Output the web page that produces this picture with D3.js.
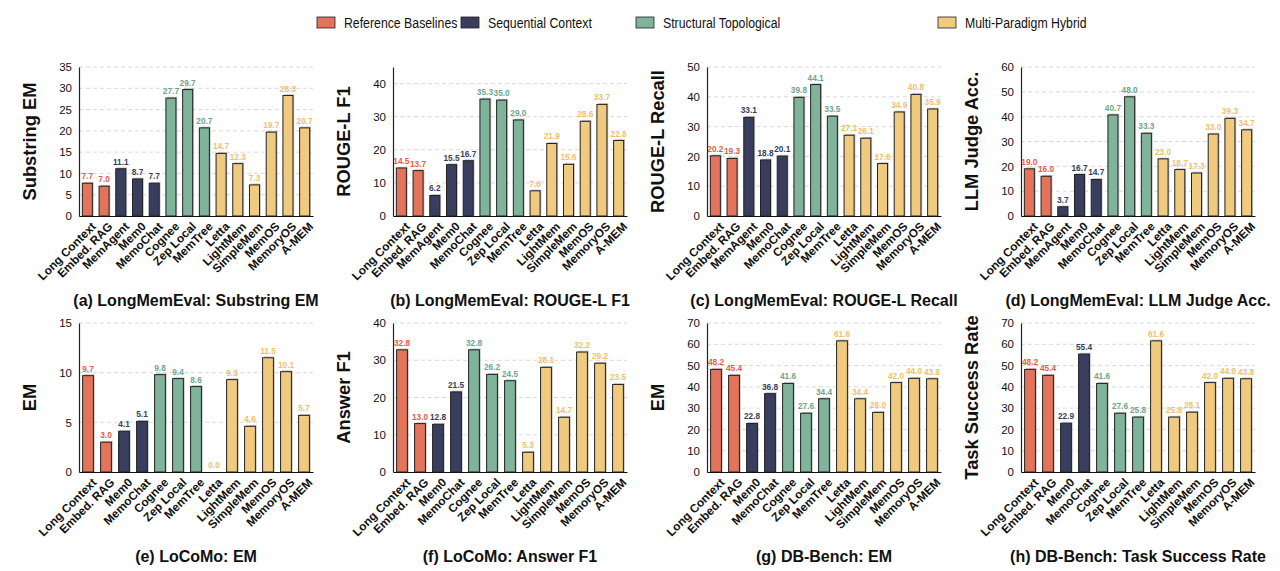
<!DOCTYPE html>
<html>
<head>
<meta charset="utf-8">
<script src="https://cdn.jsdelivr.net/npm/d3@7"></script>
<style>
  body { margin: 0; background: #fff; }
  svg { display: block; }
  text { font-family: "Liberation Sans", Arial, Helvetica, sans-serif; }
</style>
</head>
<body>
<svg id="chart" width="1280" height="571"></svg>
<script>
// ---- data ----
const groupNames = ["Reference Baselines", "Sequential Context", "Structural Topological", "Multi-Paradigm Hybrid"];
const referenceMethods = ["Long Context", "Embed. RAG"];
const sequentialMethods = ["MemAgent", "Mem0", "MemoChat"];
const structuralMethods = ["Cognee", "Zep Local", "MemTree"];
const hybridMethods = ["Letta", "LightMem", "SimpleMem", "MemOS", "MemoryOS", "A-MEM"];

const methodsLongMemEval = ["Long Context", "Embed. RAG", "MemAgent", "Mem0", "MemoChat", "Cognee", "Zep Local",
  "MemTree", "Letta", "LightMem", "SimpleMem", "MemOS", "MemoryOS", "A-MEM"];
const methodsOther = ["Long Context", "Embed. RAG", "Mem0", "MemoChat", "Cognee", "Zep Local",
  "MemTree", "Letta", "LightMem", "SimpleMem", "MemOS", "MemoryOS", "A-MEM"];

const lmeSubstringEM = [7.7, 7.0, 11.1, 8.7, 7.7, 27.7, 29.7, 20.7, 14.7, 12.3, 7.3, 19.7, 28.3, 20.7];
const lmeRougeF1     = [14.5, 13.7, 6.2, 15.5, 16.7, 35.3, 35.0, 29.0, 7.6, 21.9, 15.6, 28.6, 33.7, 22.8];
const lmeRougeRecall = [20.2, 19.3, 33.1, 18.8, 20.1, 39.8, 44.1, 33.5, 27.1, 26.1, 17.6, 34.9, 40.8, 35.9];
const lmeJudgeAcc    = [19.0, 16.0, 3.7, 16.7, 14.7, 40.7, 48.0, 33.3, 23.0, 18.7, 17.3, 33.0, 39.3, 34.7];
const locomoEM       = [9.7, 3.0, 4.1, 5.1, 9.8, 9.4, 8.6, 0.0, 9.3, 4.6, 11.5, 10.1, 5.7];
const locomoF1       = [32.8, 13.0, 12.8, 21.5, 32.8, 26.2, 24.5, 5.3, 28.1, 14.7, 32.2, 29.2, 23.5];
const dbEM           = [48.2, 45.4, 22.8, 36.8, 41.6, 27.6, 34.4, 61.6, 34.4, 28.0, 42.0, 44.0, 43.8];
const dbSuccess      = [48.2, 45.4, 22.9, 55.4, 41.6, 27.6, 25.8, 61.6, 25.8, 28.1, 42.0, 44.0, 43.8];

const yLabels  = ["Substring EM", "ROUGE-L F1", "ROUGE-L Recall", "LLM Judge Acc.", "EM", "Answer F1", "EM", "Task Success Rate"];
const captions = ["(a) LongMemEval: Substring EM", "(b) LongMemEval: ROUGE-L F1", "(c) LongMemEval: ROUGE-L Recall",
  "(d) LongMemEval: LLM Judge Acc.", "(e) LoCoMo: EM", "(f) LoCoMo: Answer F1", "(g) DB-Bench: EM",
  "(h) DB-Bench: Task Success Rate"];
const yMaxes   = [35, 45, 50, 60, 15, 40, 70, 70];
const yTicks   = [5, 10, 10, 10, 5, 10, 10, 10];

// ---- style ----
const fills  = ["#E4735B", "#393E5E", "#7FB39A", "#F0CA7E"];
const labelColors = ["#E2604A", "#393E5E", "#6FA68C", "#EFBF6E"];

const groupOf = new Map();
[referenceMethods, sequentialMethods, structuralMethods, hybridMethods]
  .forEach((list, g) => list.forEach(m => groupOf.set(m, g)));

const panels = [
  [methodsLongMemEval, lmeSubstringEM], [methodsLongMemEval, lmeRougeF1],
  [methodsLongMemEval, lmeRougeRecall], [methodsLongMemEval, lmeJudgeAcc],
  [methodsOther, locomoEM], [methodsOther, locomoF1], [methodsOther, dbEM], [methodsOther, dbSuccess]
].map(([methods, values], i) => ({
  methods, values, yLabel: yLabels[i], caption: captions[i], yMax: yMaxes[i], step: yTicks[i]
}));

const svg = d3.select("#chart");
const colLeft = [79, 393, 707, 1021], rowTop = [67, 323];
const pw = 234, ph = 149;

panels.forEach((p, i) => {
  const x0 = colLeft[i % 4], y0 = rowTop[Math.floor(i / 4)];
  const g = svg.append("g").attr("transform", `translate(${x0},${y0})`);

  const x = d3.scaleBand().domain(p.methods).range([0, pw]).paddingInner(0.4).paddingOuter(0.2);
  const y = d3.scaleLinear().domain([0, p.yMax]).range([ph, 0]);
  const ticks = d3.range(0, p.yMax + 0.001, p.step);

  // grid
  g.selectAll("line.grid").data(ticks.filter(t => t > 0)).join("line")
    .attr("x1", 0).attr("x2", pw).attr("y1", d => y(d)).attr("y2", d => y(d))
    .attr("stroke", "#cfcfcf").attr("stroke-width", 0.8).attr("stroke-dasharray", "4,3");

  const data = p.methods.map((m, k) => ({ m, v: p.values[k], g: groupOf.get(m) }));

  // shadows
  g.selectAll("rect.shadow").data(data).join("rect")
    .attr("x", d => x(d.m) + 1.3).attr("y", d => y(d.v) - 1.3)
    .attr("width", x.bandwidth()).attr("height", d => ph - y(d.v) + 1.3)
    .attr("fill", "#777").attr("opacity", d => d.v > 0 ? 0.45 : 0);

  g.selectAll("rect.bar").data(data).join("rect")
    .attr("x", d => x(d.m)).attr("y", d => y(d.v))
    .attr("width", x.bandwidth()).attr("height", d => ph - y(d.v))
    .attr("fill", d => fills[d.g]).attr("stroke", "#222").attr("stroke-width", d => d.v > 0 ? 1 : 0);

  g.selectAll("text.val").data(data).join("text")
    .attr("x", d => x(d.m) + x.bandwidth() / 2).attr("y", d => y(d.v) - 4)
    .attr("text-anchor", "middle").attr("font-size", 8.3).attr("font-weight", "bold")
    .attr("fill", d => labelColors[d.g]).text(d => d.v.toFixed(1));

  // axes
  const ya = g.append("g").call(d3.axisLeft(y).tickValues(ticks).tickSize(0).tickPadding(7).tickFormat(d3.format("d")));
  ya.select(".domain").attr("stroke", "#222").attr("stroke-width", 1.2);
  ya.selectAll("text").attr("font-size", 11.5).attr("fill", "#111").style("font-family", "Liberation Sans, Arial, sans-serif");

  const xa = g.append("g").attr("transform", `translate(0,${ph})`).call(d3.axisBottom(x).tickSize(0).tickPadding(0));
  xa.select(".domain").attr("stroke", "#111").attr("stroke-width", 1.2);
  xa.selectAll("text")
    .attr("font-size", 11.8).attr("font-weight", "bold").attr("fill", "#111")
    .style("font-family", "Liberation Sans, Arial, sans-serif")
    .attr("text-anchor", "end").attr("dy", null).attr("y", 0)
    .attr("transform", "translate(3,5) rotate(-45)")
    .attr("dominant-baseline", "hanging");

  // y label
  g.append("text").attr("transform", `translate(-50,${ph / 2}) rotate(-90)`)
    .attr("text-anchor", "middle").attr("dominant-baseline", "central")
    .attr("font-size", 18.3).attr("font-weight", "bold").attr("fill", "#111").text(p.yLabel);

  // caption
  g.append("text").attr("x", pw / 2).attr("y", ph + 84)
    .attr("text-anchor", "middle").attr("dominant-baseline", "central")
    .attr("font-size", 16).attr("font-weight", "bold").attr("fill", "#111").text(p.caption);
});

// legend (condensed label face)
const legendX = [317, 461, 636, 938];
const lg = svg.append("g");
groupNames.forEach((name, k) => {
  lg.append("rect").attr("x", legendX[k]).attr("y", 17).attr("width", 18).attr("height", 11)
    .attr("fill", fills[k]).attr("stroke", "#222").attr("stroke-width", 0.8);
  lg.append("text").attr("transform", `translate(${legendX[k] + 27},23) scale(0.82,1)`)
    .attr("dominant-baseline", "central")
    .attr("font-size", 15).attr("fill", "#111")
    .text(name);
});
</script>
</body>
</html>
